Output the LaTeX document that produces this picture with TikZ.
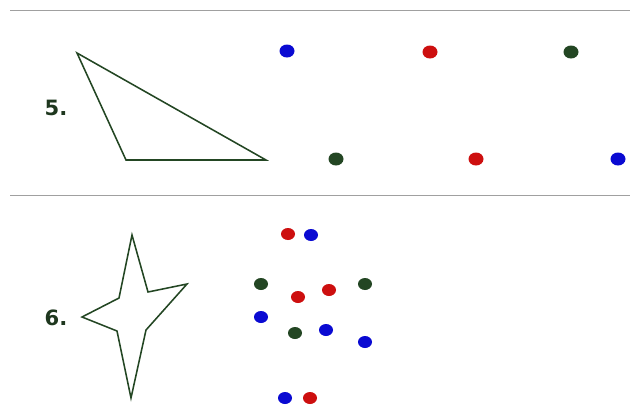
\documentclass[tikz,border=0pt]{standalone}
\usepackage{fontspec}
\setsansfont{DejaVu Sans}
\definecolor{dotblue}{RGB}{10,10,210}
\definecolor{dotred}{RGB}{205,15,15}
\definecolor{dotgreen}{RGB}{35,70,35}
\definecolor{labelgreen}{RGB}{30,55,30}
\definecolor{rulegray}{RGB}{160,160,160}
\tikzset{
  rule/.style={color=rulegray, line width=0.7pt},
  outline/.style={color=dotgreen, line width=1.1pt, line join=miter},
  numlabel/.style={color=labelgreen, font=\sffamily\bfseries\fontsize{15}{15}\selectfont},
  counter/.style={fill=#1, draw=none}
}

\begin{document}
\begin{tikzpicture}[x=0.025cm, y=-0.025cm]
    \useasboundingbox (0,0) rectangle (630,410);

    \draw[rule] (10,10) -- (630,10);
    \draw[rule] (10,195) -- (630,195);

    % item 5
    \node[numlabel] (five) at (56,108) {5.};
    \draw[outline] (77,53) -- (126,160) -- (266,160) -- cycle;

    \foreach \px/\py/\c in {287/51/dotblue, 430/52/dotred, 571/52/dotgreen,
                            336/159/dotgreen, 476/159/dotred, 618/159/dotblue}
      \fill[counter=\c] (\px,\py) ellipse (7.5 and 6.5);

    % item 6
    \node[numlabel] (six) at (56,318) {6.};
    \draw[outline] (132,235) -- (148,292) -- (187,284) -- (146,330) -- (131,398)
                   -- (117,331) -- (82,317) -- (119,298) -- cycle;

    \foreach \px/\py/\c in {288/234/dotred, 311/235/dotblue,
                            261/284/dotgreen, 298/297/dotred, 329/290/dotred, 365/284/dotgreen,
                            261/317/dotblue, 295/333/dotgreen, 326/330/dotblue, 365/342/dotblue,
                            285/398/dotblue, 310/398/dotred}
      \fill[counter=\c] (\px,\py) ellipse (7 and 6);
  \end{tikzpicture}
\end{document}
